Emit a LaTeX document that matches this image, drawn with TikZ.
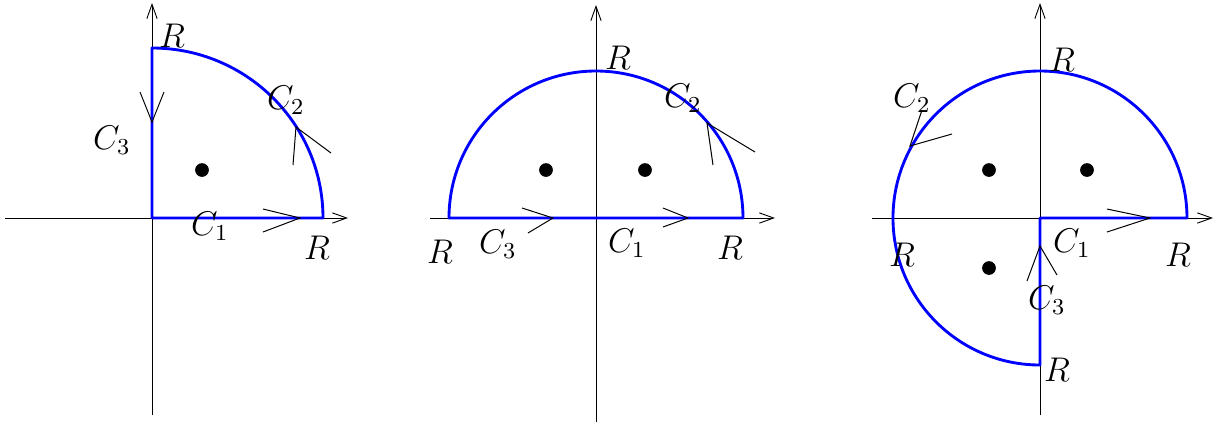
\documentclass[tikz,border=0pt]{standalone}
\usetikzlibrary{arrows.meta}
\begin{document}
\begin{tikzpicture}[x=0.35pt,y=-0.35pt,
  axis/.style={line width=0.32pt,-{Straight Barb[length=5pt,width=3.6pt]}},
  contour/.style={blue,line width=1pt,line join=round},
  chev/.style={line width=0.35pt},
  pole/.style={circle,fill,inner sep=0pt,minimum size=4.8pt},
  lab/.style={inner sep=0pt,font=\fontsize{11.5}{13}\selectfont}]
\useasboundingbox (0,0) rectangle (1225,425);

% ---------- Panel 1 ----------
\begin{scope}[shift={(152,218)},yscale=-1]
  \draw[axis] (-147,0) -- (196,0);
  \draw[axis] (0,-197) -- (0,215);
  \draw[contour] (0,0) -- (171,0) arc[start angle=0,end angle=90,x radius=171,y radius=170] -- cycle;
  \node[pole] (p1) at (50,48) {};
  \draw[chev] (111,9) -- (148,0) -- (111,-14);
  \draw[chev] (-12,126) -- (0,96) -- (12,126);
  \draw[chev] (141,53) -- (144,91) -- (179,65);
  \node[lab] (r1t) at (20,182) {$R$};
  \node[lab] (c12) at (134,118) {$C_2$};
  \node[lab] (c13) at (-40,78) {$C_3$};
  \node[lab] (c11) at (58,-8) {$C_1$};
  \node[lab] (r1r) at (165,-30) {$R$};
\end{scope}

% ---------- Panel 2 ----------
\begin{scope}[shift={(596,218)},yscale=-1]
  \draw[axis] (-166,0) -- (179,0);
  \draw[axis] (0,-204) -- (0,213);
  \draw[contour] (-147,0) -- (147,0) arc[start angle=0,end angle=180,radius=147] -- cycle;
  \node[pole] (p2a) at (-50,48) {};
  \node[pole] (p2b) at (49,48) {};
  \draw[chev] (-74,10) -- (-43,0) -- (-68,-15);
  \draw[chev] (67,10) -- (92,0) -- (67,-9);
  \draw[chev] (117,53) -- (111,95) -- (159,66);
  \node[lab] (r2t) at (22,160) {$R$};
  \node[lab] (c22) at (87,120) {$C_2$};
  \node[lab] (r2l) at (-156,-34) {$R$};
  \node[lab] (c23) at (-98,-26) {$C_3$};
  \node[lab] (c21) at (31,-25) {$C_1$};
  \node[lab] (r2r) at (134,-30) {$R$};
\end{scope}

% ---------- Panel 3 ----------
\begin{scope}[shift={(1040,218)},yscale=-1]
  \draw[axis] (-168,0) -- (173,0);
  \draw[axis] (0,-197) -- (0,215);
  \draw[contour] (0,0) -- (147,0) arc[start angle=0,end angle=270,radius=147] -- cycle;
  \node[pole] (p3a) at (-51,48) {};
  \node[pole] (p3b) at (47,48) {};
  \node[pole] (p3c) at (-51,-50) {};
  \draw[chev] (67,9) -- (110,0) -- (67,-14);
  \draw[chev] (-13,-63) -- (0,-28) -- (17,-57);
  \draw[chev] (-118,108) -- (-130,72) -- (-88,84);
  \node[lab] (r3t) at (22,158) {$R$};
  \node[lab] (c32) at (-128,120) {$C_2$};
  \node[lab] (r3l) at (-138,-37) {$R$};
  \node[lab] (c31) at (32,-25) {$C_1$};
  \node[lab] (r3r) at (138,-37) {$R$};
  \node[lab] (c33) at (7,-82) {$C_3$};
  \node[lab] (r3b) at (17,-152) {$R$};
\end{scope}
\end{tikzpicture}
\end{document}
